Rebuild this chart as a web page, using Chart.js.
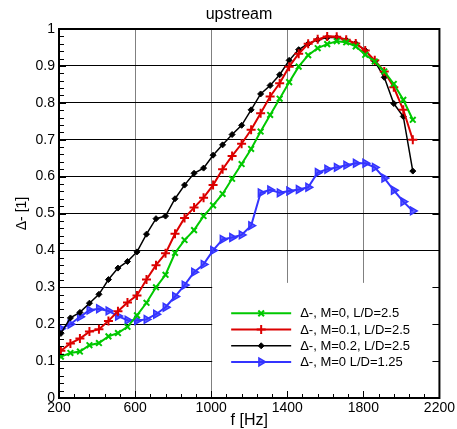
<!DOCTYPE html>
<html>
<head>
<meta charset="utf-8">
<title>upstream</title>
<script src="https://cdn.jsdelivr.net/npm/chart.js@4.4.0/dist/chart.umd.min.js"></script>
<style>
  html, body { margin: 0; padding: 0; background: #fff; }
  canvas { display: block; }
</style>
</head>
<body>
<canvas id="chart" width="457" height="429"></canvas>
<script>
// measured frequencies [Hz]
const freqHz = [210, 260, 310, 360, 410, 460, 510, 560, 610, 660, 710, 760, 810, 860, 910, 960,
  1010, 1060, 1110, 1160, 1210, 1260, 1310, 1360, 1410, 1460, 1510, 1560, 1610, 1660, 1710,
  1760, 1810, 1860, 1910, 1960, 2010, 2060];

// Δ- values, one array per case
const deltaM0 = [0.112, 0.122, 0.126, 0.143, 0.149, 0.167, 0.176, 0.193, 0.224, 0.258, 0.300,
  0.334, 0.393, 0.428, 0.455, 0.493, 0.522, 0.553, 0.594, 0.634, 0.675, 0.722, 0.767, 0.811,
  0.856, 0.898, 0.929, 0.948, 0.959, 0.967, 0.964, 0.953, 0.930, 0.912, 0.885, 0.851, 0.808, 0.754];
const deltaM01 = [0.128, 0.148, 0.161, 0.180, 0.186, 0.209, 0.235, 0.259, 0.278, 0.321, 0.360,
  0.392, 0.445, 0.488, 0.516, 0.543, 0.577, 0.620, 0.656, 0.689, 0.727, 0.772, 0.817, 0.853,
  0.898, 0.933, 0.960, 0.972, 0.980, 0.979, 0.971, 0.961, 0.942, 0.915, 0.885, 0.842, 0.781, 0.700];
const deltaM02 = [0.175, 0.217, 0.232, 0.257, 0.281, 0.321, 0.352, 0.370, 0.396, 0.444, 0.486,
  0.493, 0.540, 0.577, 0.609, 0.623, 0.658, 0.686, 0.714, 0.739, 0.781, 0.824, 0.847, 0.876,
  0.915, 0.944, 0.960, 0.971, 0.977, 0.977, 0.970, 0.961, 0.942, 0.912, 0.869, 0.798, 0.763, 0.615];
const deltaShort = [0.188, 0.200, 0.220, 0.238, 0.242, 0.236, 0.222, 0.211, 0.210, 0.213, 0.227,
  0.246, 0.275, 0.306, 0.341, 0.362, 0.400, 0.430, 0.435, 0.442, 0.467, 0.556, 0.564, 0.556,
  0.561, 0.565, 0.571, 0.611, 0.620, 0.625, 0.631, 0.636, 0.636, 0.625, 0.596, 0.563, 0.532, 0.507];

const seriesLabels = ['Δ-, M=0, L/D=2.5', 'Δ-, M=0.1, L/D=2.5', 'Δ-, M=0.2, L/D=2.5', 'Δ-, M=0 L/D=1.25'];

// axis ticks
const xTicks = [200, 600, 1000, 1400, 1800, 2200];
const yTicks = [0, 0.1, 0.2, 0.3, 0.4, 0.5, 0.6, 0.7, 0.8, 0.9, 1];

const FONT = '"Liberation Sans", Arial, Helvetica, sans-serif';
Chart.defaults.font.family = FONT;
Chart.defaults.color = '#000';

function toPoints(values) {
  return values.map((v, i) => ({ x: freqHz[i], y: v }));
}

const datasets = [
  { label: seriesLabels[0], data: toPoints(deltaM0), borderColor: '#00c800', borderWidth: 2,
    pointStyle: 'crossRot', pointRadius: 4, pointBorderWidth: 2, pointBackgroundColor: '#00c800' },
  { label: seriesLabels[1], data: toPoints(deltaM01), borderColor: '#dc0000', borderWidth: 2,
    pointStyle: 'cross', pointRadius: 4.5, pointBorderWidth: 2, pointBackgroundColor: '#dc0000' },
  { label: seriesLabels[2], data: toPoints(deltaM02), borderColor: '#000', borderWidth: 1.5,
    pointStyle: 'rectRot', pointRadius: 3, pointBorderWidth: 1, pointBackgroundColor: '#000' },
  { label: seriesLabels[3], data: toPoints(deltaShort), borderColor: '#3434ff', borderWidth: 2,
    pointStyle: 'triangle', pointRotation: 90, pointRadius: 4.5, pointBorderWidth: 1.5,
    pointBackgroundColor: 'rgba(52,52,255,0.75)' }
];
datasets.forEach(d => {
  d.pointBorderColor = d.borderColor;
  d.tension = 0;
  d.fill = false;
});

/**
 * Legend box, minor ticks, frame and title (tecplot look)
 */
const tecplotLook = {
  id: 'tecplotLook',
  beforeDatasetsDraw(chart) {
    const { ctx, chartArea, scales: { x, y } } = chart;
    const left = x.getPixelForValue(1000) + 1;
    const top = y.getPixelForValue(0.312);
    ctx.save();
    ctx.fillStyle = '#fff';
    ctx.fillRect(left, top, chartArea.right - left, chartArea.bottom - top);
    ctx.restore();
  },
  afterDatasetsDraw(chart) {
    const { ctx, chartArea: a, scales: { x, y } } = chart;
    ctx.save();

    // legend
    const boxLeft = x.getPixelForValue(1000) + 1;
    const boxTop = y.getPixelForValue(0.312);
    ctx.font = '13px ' + FONT;
    ctx.textBaseline = 'middle';
    chart.data.datasets.forEach((d, i) => {
      const ly = boxTop + 30.5 + i * 16.2;
      ctx.strokeStyle = d.borderColor;
      ctx.lineWidth = d.borderWidth;
      ctx.beginPath();
      ctx.moveTo(boxLeft + 19, ly);
      ctx.lineTo(boxLeft + 79, ly);
      ctx.stroke();
      ctx.fillStyle = d.pointBackgroundColor;
      ctx.lineWidth = d.pointBorderWidth;
      Chart.helpers.drawPoint(ctx, {
        pointStyle: d.pointStyle, rotation: d.pointRotation || 0,
        radius: d.pointRadius, borderWidth: d.pointBorderWidth
      }, boxLeft + 49, ly);
      ctx.fillStyle = '#000';
      ctx.fillText(d.label, boxLeft + 88, ly + 0.5);
    });

    // inward ticks
    ctx.strokeStyle = '#000';
    ctx.lineWidth = 1;
    ctx.beginPath();
    for (let i = 0; i <= 50; i++) {
      const py = Math.round(y.getPixelForValue(i / 50)) + 0.5;
      const len = i % 5 === 0 ? 7 : 5;
      ctx.moveTo(a.left, py); ctx.lineTo(a.left + len, py);
      if (i % 5 === 0) { ctx.moveTo(a.right, py); ctx.lineTo(a.right - 7, py); }
    }
    for (let i = 0; i <= 25; i++) {
      const px = Math.round(x.getPixelForValue(200 + i * 80)) + 0.5;
      const len = i % 5 === 0 ? 7 : 4;
      ctx.moveTo(px, a.bottom); ctx.lineTo(px, a.bottom - len);
    }
    ctx.stroke();

    // frame
    ctx.lineWidth = 2;
    ctx.strokeRect(a.left, a.top, a.right - a.left, a.bottom - a.top);
    ctx.restore();
  },
  afterDraw(chart) {
    const { ctx } = chart;
    ctx.save();
    ctx.font = '16px ' + FONT;
    ctx.fillStyle = '#000';
    ctx.textAlign = 'center';
    ctx.textBaseline = 'middle';
    ctx.fillText('upstream', 239, 15);
    ctx.restore();
  }
};

new Chart(document.getElementById('chart'), {
  type: 'line',
  data: { datasets },
  options: {
    responsive: false,
    animation: false,
    devicePixelRatio: 1,
    layout: { padding: { top: 29, right: 16, left: 0, bottom: 0 } },
    plugins: {
      legend: { display: false },
      title: { display: false },
      tooltip: { enabled: false }
    },
    scales: {
      x: {
        type: 'linear',
        min: 200,
        max: 2200,
        afterBuildTicks: axis => { axis.ticks = xTicks.map(v => ({ value: v })); },
        afterFit: scale => { scale.height = 31; },
        ticks: { font: { size: 14 }, padding: 2, maxRotation: 0, callback: v => String(v) },
        grid: { color: '#808080', lineWidth: 1, drawTicks: false },
        border: { display: false },
        title: { display: true, text: 'f [Hz]', font: { size: 16, lineHeight: 1 }, padding: 0 }
      },
      y: {
        min: 0,
        max: 1,
        afterBuildTicks: axis => { axis.ticks = yTicks.map(v => ({ value: v })); },
        afterFit: scale => { scale.width = 59; },
        ticks: { font: { size: 14 }, padding: 4, callback: v => String(v) },
        grid: { color: '#000', lineWidth: 1, drawTicks: false },
        border: { display: false },
        title: { display: true, text: 'Δ- [1]', font: { size: 14, lineHeight: 1 }, padding: { top: 15, bottom: 0 } }
      }
    }
  },
  plugins: [tecplotLook]
});
</script>
</body>
</html>
